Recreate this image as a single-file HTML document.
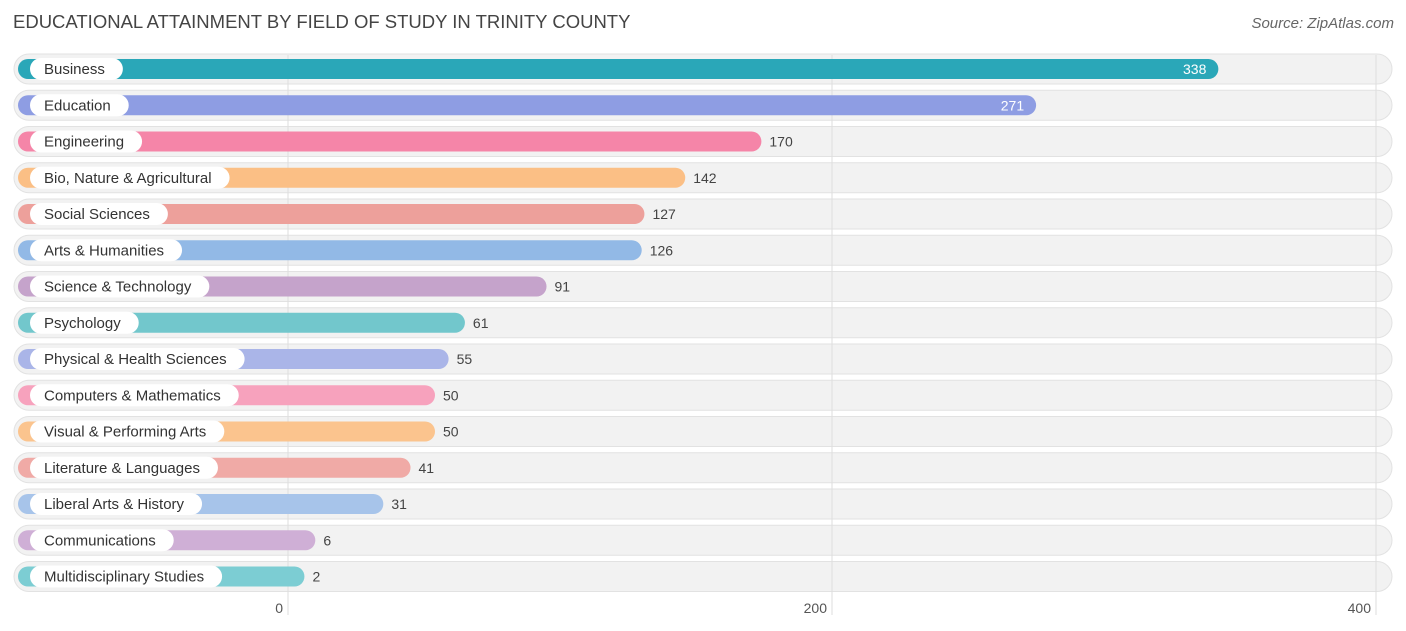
<!DOCTYPE html>
<html><head><meta charset="utf-8"><style>
body{margin:0;width:1406px;height:631px;background:#fff;font-family:"Liberation Sans",sans-serif;overflow:hidden;position:relative}
.t{position:absolute;left:13px;top:11px;font-size:18.5px;color:#444}
.s{position:absolute;right:12px;top:15px;font-size:15px;color:#666;font-style:italic}
</style></head><body>
<div class="t">EDUCATIONAL ATTAINMENT BY FIELD OF STUDY IN TRINITY COUNTY</div>
<div class="s">Source: ZipAtlas.com</div>
<svg id="c" width="1406" height="631" style="position:absolute;left:0;top:0"></svg>
<script>
const categories=["Business","Education","Engineering","Bio, Nature & Agricultural","Social Sciences","Arts & Humanities","Science & Technology","Psychology","Physical & Health Sciences","Computers & Mathematics","Visual & Performing Arts","Literature & Languages","Liberal Arts & History","Communications","Multidisciplinary Studies"];
const values=[338,271,170,142,127,126,91,61,55,50,50,41,31,6,2];
const colors=["#2aa7b8","#8e9de3","#f585a8","#fbbf85","#eda09b","#92b9e6","#c5a3cb","#72c7cc","#aab5e8","#f7a2bd","#fbc48e","#f0aaa6","#a7c4ea","#cfafd6","#7ccdd3"];
const ticks=[0,200,400];
const NS="http://www.w3.org/2000/svg";
const svg=document.getElementById('c');
const x0=288,k=2.72;
const xs=v=>x0+v*k;
const rowY=i=>69+i*36.25;
function mk(t,a,p){const e=document.createElementNS(NS,t);for(const n in a)e.setAttribute(n,a[n]);(p||svg).appendChild(e);return e;}
categories.forEach((c,i)=>{
  const y=rowY(i);
  const bg=mk('rect',{x:14,y:y-15,width:1378,height:30,rx:15,fill:'#f2f2f2',stroke:'#e2e2e2'});
  
  
});
ticks.forEach(t=>{
  const l=mk('line',{x1:xs(t),x2:xs(t),y1:55,y2:615,stroke:'#ddd'});
  
  
  const tx=mk('text',{x:xs(t)-5,y:613,'text-anchor':'end','font-size':14,fill:'#555'});
  tx.textContent=t;
  
  
});
categories.forEach((c,i)=>{
  const y=rowY(i),v=values[i],end=xs(v)+11;
  const b=mk('rect',{x:18,y:y-10,width:end-18,height:20,rx:10,fill:colors[i]});
  
  
  const lab=mk('text',{x:44,y:y+5,'font-size':15,fill:'#333'});
  lab.textContent=c;
  
  
  const w=lab.getComputedTextLength();
  const p=mk('rect',{x:30,y:y-11,width:w+32,height:22,rx:11,fill:'#fff'});
  svg.insertBefore(p,lab);
  
  
  const inside=v>250;
  const vt=mk('text',{x:inside?end-12:end+8,y:y+5,'font-size':14,fill:inside?'#fff':'#444','text-anchor':inside?'end':'start'});
  vt.textContent=v;
  
  
});
</script>
</body></html>
